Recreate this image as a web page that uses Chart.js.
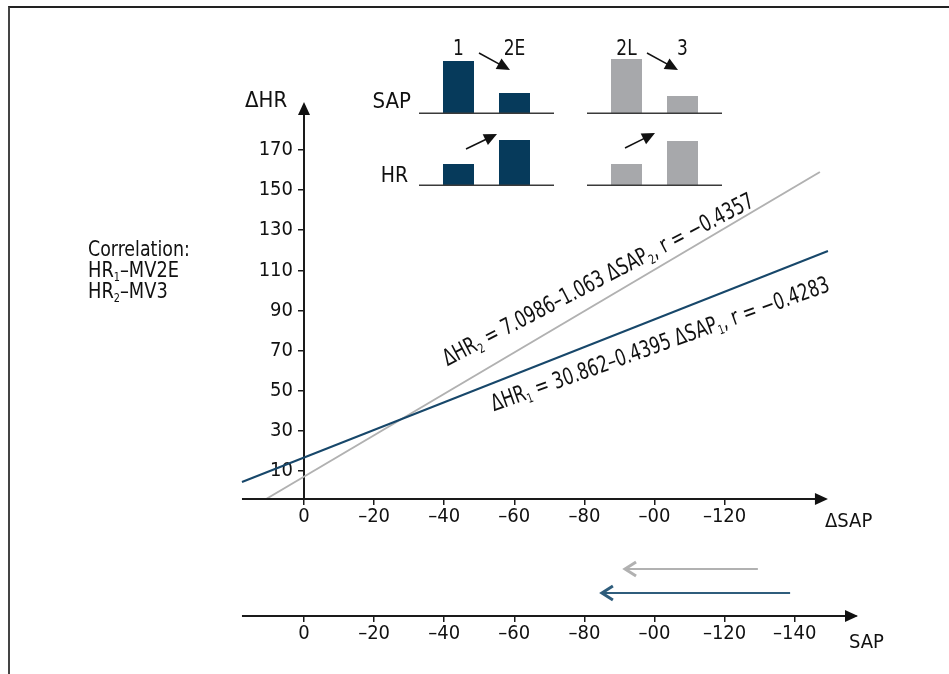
<!DOCTYPE html>
<html>
<head>
<meta charset="utf-8">
<script src="https://cdn.jsdelivr.net/npm/chart.js@4.4.1/dist/chart.umd.min.js"></script>
<style>
  html, body { margin: 0; padding: 0; background: #fff; }
  #wrap { position: relative; width: 949px; height: 674px; overflow: hidden; }
  #frame { position: absolute; left: 8px; top: 6px; width: 1000px; height: 700px;
           border-left: 2.5px solid #444; border-top: 2px solid #222; }
  canvas { position: absolute; }
</style>
</head>
<body>
<div id="wrap">
  <div id="frame"></div>
  <canvas id="main" width="949" height="674" style="left:0;top:0"></canvas>
  <canvas id="sapBars" width="340" height="84" style="left:400px;top:30px"></canvas>
  <canvas id="hrBars" width="340" height="60" style="left:400px;top:126px"></canvas>
</div>
<script>
// axis ticks
const deltaSapTicks = [0, -20, -40, -60, -80, -100, -120];
const deltaSapTickLabels = ['0', '–20', '–40', '–60', '–80', '–00', '–120'];
const sapTicks = [0, -20, -40, -60, -80, -100, -120, -140];
const sapTickLabels = ['0', '–20', '–40', '–60', '–80', '–00', '–120', '–140'];
const hrTicks = [10, 30, 50, 70, 90, 110, 130, 150, 170];

// regression lines, end points
const fit1Sap = [17.7, -149.5];
const fit1Hr = [4.5, 119.6];
const fit2Sap = [10.8, -147.2];
const fit2Hr = [-4, 159.0];

// SAP shift arrows under the plot (from, to)
const sapShiftGray = [-129.5, -91.6];
const sapShiftBlue = [-138.7, -85.0];

// inset bars
const phases = ['1', '2E', '', '2L', '3'];
const sapBarValues = [53, 21, null, 55, 18];
const hrBarValues = [22, 46, null, 22, 45];

const BLUE = '#063a5b';
const BLUE_LINE = '#17476a';
const GRAY = '#a7a8ab';
const GRAY_LINE = '#b1b1b1';
const INK = '#111';
const FONT = "'DejaVu Sans Condensed', 'Liberation Sans', sans-serif";
const SQUEEZE = 0.86; // narrow the annotation text a bit

Chart.defaults.font.family = FONT;
Chart.defaults.color = INK;
Chart.defaults.animation = false;

const axisStart = 17.7;
const deltaSapAxisEnd = -149.5;
const eq2Label = { x: -84.9, y: 102.2, angle: 27.5 };
const eq1Label = { x: -102.3, y: 69.8, angle: 19.7 };

function font(size) { return size + 'px ' + FONT; }

function arrowHead(ctx, tx, ty, ang, len, half) {
    ctx.save();
    ctx.translate(tx, ty);
    ctx.rotate(ang);
    ctx.beginPath();
    ctx.moveTo(0, 0);
    ctx.lineTo(-len, -half);
    ctx.lineTo(-len, half);
    ctx.closePath();
    ctx.fill();
    ctx.restore();
}

function openArrow(ctx, xFrom, xTo, yy, color) {
    ctx.strokeStyle = color;
    ctx.lineWidth = 2;
    ctx.beginPath();
    ctx.moveTo(xFrom, yy);
    ctx.lineTo(xTo + 1, yy);
    ctx.stroke();
    ctx.lineWidth = 3;
    ctx.beginPath();
    ctx.moveTo(xTo + 11, yy - 7);
    ctx.lineTo(xTo, yy);
    ctx.lineTo(xTo + 11, yy + 7);
    ctx.stroke();
}

// text with small subscripts on the alphabetic baseline, optionally squeezed sideways
function drawRich(ctx, parts, x, y, size, align, squeeze = SQUEEZE) {
    ctx.save();
    ctx.translate(x, y);
    ctx.scale(squeeze, 1);
    const widths = parts.map(p => {
        ctx.font = font(p.sub ? Math.round(size * 0.55) : size);
        return ctx.measureText(p.t).width;
    });
    const total = widths.reduce((a, b) => a + b, 0);
    let cx = align === 'center' ? -total / 2 : align === 'right' ? -total : 0;
    ctx.textAlign = 'left';
    ctx.textBaseline = 'alphabetic';
    parts.forEach((p, i) => {
        ctx.font = font(p.sub ? Math.round(size * 0.55) : size);
        ctx.fillText(p.t, cx, p.sub ? size * 0.18 : 0);
        cx += widths[i];
    });
    ctx.restore();
}

const decorations = {
    id: 'decorations',
    afterDraw(chart) {
        const { ctx, chartArea: ca, scales: { x, x2, y } } = chart;
        ctx.save();
        ctx.fillStyle = INK;
        ctx.strokeStyle = '#1a1a1a';

        // ΔSAP axis with arrow
        const tipX = x.getPixelForValue(deltaSapAxisEnd);
        ctx.lineWidth = 2;
        ctx.beginPath();
        ctx.moveTo(x.getPixelForValue(axisStart), ca.bottom);
        ctx.lineTo(tipX - 8, ca.bottom);
        ctx.stroke();
        arrowHead(ctx, tipX, ca.bottom, 0, 13, 6);
        // SAP axis runs on to the left of zero as well
        ctx.beginPath();
        ctx.moveTo(x2.getPixelForValue(axisStart), x2.top);
        ctx.lineTo(ca.left, x2.top);
        ctx.stroke();
        arrowHead(ctx, ca.right + 2, x2.top, 0, 13, 6);
        // ΔHR axis arrow
        arrowHead(ctx, ca.left, ca.top - 3, -Math.PI / 2, 13, 6);

        // axis names
        drawRich(ctx, [{ t: 'ΔHR' }], 245, 107, 22, 'left', 1);
        drawRich(ctx, [{ t: 'ΔSAP' }], 825, 527, 20, 'left', 1);
        drawRich(ctx, [{ t: 'SAP' }], 849, 648, 20, 'left', 1);

        // inset row names
        drawRich(ctx, [{ t: 'SAP' }], 411, 108, 22, 'right', 1);
        drawRich(ctx, [{ t: 'HR' }], 408, 182, 21, 'right', 1);

        // correlation note
        drawRich(ctx, [{ t: 'Correlation:' }], 88, 256, 22, 'left', 0.88);
        drawRich(ctx, [{ t: 'HR' }, { t: '1', sub: true }, { t: '–MV2E' }], 88, 277, 22, 'left', 0.9);
        drawRich(ctx, [{ t: 'HR' }, { t: '2', sub: true }, { t: '–MV3' }], 88, 298, 22, 'left', 0.9);

        // regression equations along the lines
        [[eq2Label, [{ t: 'ΔHR' }, { t: '2', sub: true }, { t: ' = 7.0986–1.063 ΔSAP' }, { t: '2', sub: true }, { t: ', r = −0.4357' }]],
         [eq1Label, [{ t: 'ΔHR' }, { t: '1', sub: true }, { t: ' = 30.862–0.4395 ΔSAP' }, { t: '1', sub: true }, { t: ', r = −0.4283' }]]
        ].forEach(([pos, parts]) => {
            ctx.save();
            ctx.translate(x.getPixelForValue(pos.x), y.getPixelForValue(pos.y));
            ctx.rotate(-pos.angle * Math.PI / 180);
            drawRich(ctx, parts, 0, 0, 23, 'center', 0.8);
            ctx.restore();
        });

        // SAP shift arrows
        openArrow(ctx, x2.getPixelForValue(sapShiftGray[0]), x2.getPixelForValue(sapShiftGray[1]), x2.top - 47, GRAY_LINE);
        openArrow(ctx, x2.getPixelForValue(sapShiftBlue[0]), x2.getPixelForValue(sapShiftBlue[1]), x2.top - 23, '#2f5d7c');
        ctx.restore();
    }
};

const tickFont = { size: 20 };
const tickGrid = { drawOnChartArea: false, drawTicks: true, tickLength: 6, color: '#1a1a1a', lineWidth: 1.5 };

new Chart(document.getElementById('main').getContext('2d'), {
    type: 'scatter',
    data: {
        datasets: [
            {
                label: 'ΔHR1',
                data: fit1Sap.map((v, i) => ({ x: v, y: fit1Hr[i] })),
                showLine: true,
                borderColor: BLUE_LINE,
                borderWidth: 2,
                pointRadius: 0,
                clip: false
            },
            {
                label: 'ΔHR2',
                data: fit2Sap.map((v, i) => ({ x: v, y: fit2Hr[i] })),
                showLine: true,
                borderColor: GRAY_LINE,
                borderWidth: 2,
                pointRadius: 0,
                clip: false
            }
        ]
    },
    options: {
        responsive: false,
        layout: { padding: { left: 244, right: 93, top: 105, bottom: 18 } },
        plugins: { legend: { display: false }, tooltip: { enabled: false } },
        scales: {
            x: {
                type: 'linear',
                position: 'bottom',
                reverse: true,
                min: -157.5,
                max: 0,
                afterFit: s => { s.height = 117; },
                afterBuildTicks: s => { s.ticks = deltaSapTicks.map(v => ({ value: v })); },
                ticks: {
                    font: tickFont, padding: 0, autoSkip: false, maxRotation: 0,
                    callback: (v, i) => deltaSapTickLabels[i]
                },
                grid: tickGrid,
                border: { display: false }
            },
            x2: {
                type: 'linear',
                axis: 'x',
                position: 'bottom',
                reverse: true,
                min: -157.5,
                max: 0,
                afterFit: s => { s.height = 40; },
                afterBuildTicks: s => { s.ticks = sapTicks.map(v => ({ value: v })); },
                ticks: {
                    font: tickFont, padding: 0, autoSkip: false, maxRotation: 0,
                    callback: (v, i) => sapTickLabels[i]
                },
                grid: tickGrid,
                border: { display: true, color: '#1a1a1a', width: 2 }
            },
            y: {
                type: 'linear',
                position: 'left',
                min: -4,
                max: 192.4,
                afterFit: s => { s.width = 60; },
                afterBuildTicks: s => { s.ticks = hrTicks.map(v => ({ value: v })); },
                ticks: { font: tickFont, padding: 5, autoSkip: false },
                grid: tickGrid,
                border: { display: true, color: '#1a1a1a', width: 2 }
            }
        }
    },
    plugins: [decorations]
});

// inset bar rows
const phaseColors = [BLUE, BLUE, null, GRAY, GRAY];

function insetDecor(showLabels, arrows) {
    return {
        id: 'insetDecor',
        afterDraw(chart) {
            const { ctx, chartArea: ca, scales: { x } } = chart;
            ctx.save();
            ctx.strokeStyle = '#3a3a3a';
            ctx.lineWidth = 1.5;
            [[0, 1], [3, 4]].forEach(g => {
                ctx.beginPath();
                ctx.moveTo(x.getPixelForValue(g[0]) - 39.5, ca.bottom - 0.75);
                ctx.lineTo(x.getPixelForValue(g[1]) + 39.5, ca.bottom - 0.75);
                ctx.stroke();
            });
            ctx.fillStyle = INK;
            if (showLabels) {
                phases.forEach((p, i) => {
                    if (p) drawRich(ctx, [{ t: p }], x.getPixelForValue(i), 25, 22, 'center');
                });
            }
            ctx.strokeStyle = INK;
            arrows.forEach(a => {
                const x0 = x.getPixelForValue(a.from) + a.dx0;
                const x1 = x.getPixelForValue(a.to) + a.dx1;
                const ang = Math.atan2(a.y1 - a.y0, x1 - x0);
                ctx.lineWidth = 1.5;
                ctx.beginPath();
                ctx.moveTo(x0, a.y0);
                ctx.lineTo(x1 - 8 * Math.cos(ang), a.y1 - 8 * Math.sin(ang));
                ctx.stroke();
                arrowHead(ctx, x1, a.y1, ang, 13, 6);
            });
            ctx.restore();
        }
    };
}

function insetChart(id, values, maxValue, showLabels, arrows) {
    new Chart(document.getElementById(id).getContext('2d'), {
        type: 'bar',
        data: {
            labels: phases,
            datasets: [{
                data: values,
                backgroundColor: phaseColors,
                barPercentage: 0.5536,
                categoryPercentage: 1
            }]
        },
        options: {
            responsive: false,
            layout: { padding: { left: 30.5, right: 29.5, top: 0, bottom: 0 } },
            plugins: { legend: { display: false }, tooltip: { enabled: false } },
            scales: {
                x: { display: false },
                y: { display: false, min: 0, max: maxValue }
            }
        },
        plugins: [insetDecor(showLabels, arrows)]
    });
}

insetChart('sapBars', sapBarValues, 84, true, [
    { from: 0, to: 1, dx0: 20.5, dx1: -4.5, y0: 23, y1: 40 },
    { from: 3, to: 4, dx0: 20.5, dx1: -4.5, y0: 23, y1: 40 }
]);
insetChart('hrBars', hrBarValues, 60, false, [
    { from: 0, to: 1, dx0: 7.5, dx1: -17.5, y0: 23, y1: 8 },
    { from: 3, to: 4, dx0: -1.5, dx1: -27.5, y0: 22, y1: 7 }
]);
</script>
</body>
</html>
